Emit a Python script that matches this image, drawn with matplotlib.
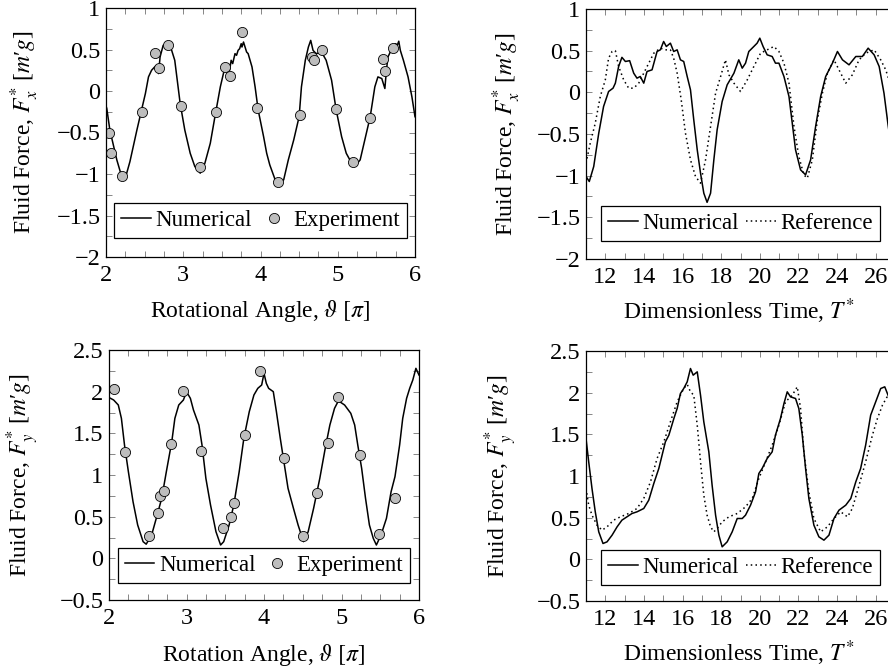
import numpy as np
import matplotlib
matplotlib.use("Agg")
import matplotlib.pyplot as plt
from matplotlib.ticker import MultipleLocator

plt.rcParams['font.family'] = ['Liberation Serif', 'DejaVu Serif']
plt.rcParams['mathtext.fontset'] = 'stix'
plt.rcParams['font.size'] = 17

# ---- top left: F_x vs rotational angle
fx_num_x = [2.0, 2.01, 2.05, 2.14, 2.2, 2.25, 2.31, 2.4, 2.46, 2.51, 2.55, 2.59, 2.63, 2.66, 2.68, 2.7,
            2.74, 2.79, 2.85, 2.89, 2.96, 3.02, 3.09, 3.15, 3.22, 3.28, 3.35, 3.41, 3.48, 3.53, 3.58,
            3.6, 3.62, 3.64, 3.67, 3.69, 3.71, 3.73, 3.75, 3.76, 3.78, 3.8, 3.82, 3.84, 3.89, 3.93,
            3.97, 4.04, 4.08, 4.12, 4.19, 4.23, 4.3, 4.36, 4.43, 4.5, 4.53, 4.58, 4.62, 4.65, 4.68,
            4.72, 4.79, 4.85, 4.92, 4.98, 5.05, 5.11, 5.18, 5.22, 5.29, 5.35, 5.42, 5.48, 5.52, 5.57,
            5.61, 5.63, 5.65, 5.68, 5.72, 5.75, 5.77, 5.79, 5.81, 5.85, 5.91, 5.96, 6.0]
fx_num_y = [-0.18, -0.21, -0.47, -0.83, -1.02, -1.05, -0.85, -0.47, -0.23, -0.03, 0.17, 0.25, 0.29, 0.31, 0.21, 0.41,
            0.55, 0.58, 0.49, 0.37, -0.15, -0.47, -0.75, -0.91, -0.99, -0.87, -0.63, -0.31, 0.05, 0.25, 0.29,
            0.25, 0.37, 0.33, 0.45, 0.43, 0.49, 0.51, 0.57, 0.53, 0.59, 0.53, 0.47, 0.45, 0.29, 0.05,
            -0.23, -0.55, -0.75, -0.89, -1.07, -1.13, -1.07, -0.83, -0.59, -0.31, 0.05, 0.37, 0.53, 0.61, 0.49,
            0.45, 0.47, 0.37, 0.13, -0.23, -0.55, -0.75, -0.87, -0.91, -0.83, -0.59, -0.31, 0.05, 0.17, 0.15,
            0.03, 0.25, 0.41, 0.47, 0.55, 0.57, 0.55, 0.6, 0.49, 0.37, 0.17, -0.07, -0.31]
fx_exp_x = [2.04, 2.07, 2.21, 2.46, 2.63, 2.69, 2.8, 2.97, 3.22, 3.43, 3.54, 3.6, 3.76, 3.96, 4.23,
            4.51, 4.67, 4.69, 4.8, 4.98, 5.2, 5.42, 5.59, 5.61, 5.71]
fx_exp_y = [-0.5, -0.745, -1.03, -0.25, 0.455, 0.28, 0.56, -0.18, -0.915, -0.25, 0.285, 0.18, 0.71, -0.2, -1.095,
            -0.285, 0.415, 0.375, 0.49, -0.22, -0.86, -0.32, 0.38, 0.24, 0.515]

# ---- bottom left: F_y vs rotation angle
fy_num_x = [2.0, 2.06, 2.12, 2.16, 2.2, 2.25, 2.31, 2.37, 2.44, 2.48, 2.55, 2.61, 2.68, 2.74, 2.81, 2.85,
            2.9, 2.96, 3.0, 3.05, 3.09, 3.16, 3.2, 3.25, 3.31, 3.38, 3.44, 3.48, 3.55, 3.61, 3.68,
            3.74, 3.81, 3.87, 3.92, 3.97, 4.0, 4.03, 4.06, 4.12, 4.16, 4.21, 4.25, 4.31, 4.38, 4.44,
            4.51, 4.57, 4.64, 4.72, 4.79, 4.85, 4.91, 4.96, 5.04, 5.12, 5.17, 5.21, 5.26, 5.31, 5.36,
            5.41, 5.45, 5.51, 5.58, 5.64, 5.69, 5.75, 5.79, 5.84, 5.88, 5.92, 5.96, 6.0]
fy_num_y = [1.93, 1.9, 1.84, 1.68, 1.36, 1.04, 0.68, 0.4, 0.2, 0.17, 0.28, 0.48, 0.72, 1.04, 1.4, 1.68,
            1.84, 1.9, 2.0, 1.92, 1.78, 1.6, 1.36, 0.96, 0.64, 0.32, 0.16, 0.2, 0.4, 0.64, 1.04,
            1.44, 1.76, 1.96, 2.04, 2.08, 2.22, 2.1, 2.04, 2.0, 1.76, 1.44, 1.2, 0.84, 0.6, 0.4,
            0.2, 0.32, 0.6, 0.96, 1.32, 1.6, 1.8, 1.89, 1.84, 1.74, 1.6, 1.36, 1.08, 0.72, 0.4,
            0.24, 0.16, 0.28, 0.48, 0.8, 0.98, 1.36, 1.68, 1.92, 2.04, 2.14, 2.28, 2.2]
fy_exp_x = [2.065, 2.21, 2.52, 2.63, 2.66, 2.71, 2.8, 2.96, 3.19, 3.47, 3.58, 3.61, 3.75, 3.95, 4.26,
            4.5, 4.68, 4.82, 4.955, 5.24, 5.48, 5.69]
fy_exp_y = [2.03, 1.28, 0.27, 0.54, 0.75, 0.81, 1.37, 2.01, 1.29, 0.37, 0.5, 0.66, 1.48, 2.25, 1.2,
            0.27, 0.78, 1.38, 1.94, 1.24, 0.29, 0.73]

# ---- top right: F_x vs time
tx_num_t = [11.0, 11.17, 11.4, 11.66, 11.91, 12.17, 12.4, 12.52, 12.69, 12.86, 13.04, 13.26, 13.47, 13.64,
            13.81, 13.99, 14.16, 14.42, 14.68, 14.85, 15.02, 15.16, 15.37, 15.54, 15.72, 15.89, 16.06,
            16.24, 16.41, 16.58, 16.76, 16.93, 17.1, 17.27, 17.45, 17.62, 17.79, 18.05, 18.31, 18.66,
            18.91, 19.09, 19.26, 19.43, 19.69, 19.86, 20.0, 20.17, 20.38, 20.64, 20.81, 20.99, 21.25,
            21.51, 21.68, 21.85, 22.11, 22.37, 22.63, 22.89, 23.15, 23.41, 23.76, 24.02, 24.28, 24.62,
            24.97, 25.31, 25.61, 25.92, 26.18, 26.43, 26.64, 26.9]
tx_num_f = [-1.01, -1.07, -0.89, -0.49, -0.17, 0.01, 0.05, 0.11, 0.31, 0.42, 0.37, 0.38, 0.23, 0.17,
            0.19, 0.11, 0.25, 0.27, 0.49, 0.51, 0.61, 0.55, 0.59, 0.49, 0.51, 0.39, 0.37,
            0.19, 0.03, -0.33, -0.69, -0.97, -1.21, -1.32, -1.21, -0.81, -0.45, -0.11, 0.09, 0.23,
            0.39, 0.29, 0.35, 0.49, 0.55, 0.59, 0.65, 0.55, 0.45, 0.43, 0.35, 0.35, 0.19,
            -0.05, -0.37, -0.69, -0.93, -0.99, -0.81, -0.41, -0.05, 0.19, 0.35, 0.49, 0.39, 0.33,
            0.43, 0.43, 0.53, 0.45, 0.31, -0.01, -0.39, -0.8]
tx_ref_t = [11.0, 11.22, 11.48, 11.74, 12.0, 12.17, 12.35, 12.52, 12.69, 12.95, 13.21, 13.47, 13.73, 13.99,
            14.25, 14.51, 14.85, 15.11, 15.37, 15.54, 15.72, 15.93, 16.15, 16.41, 16.67, 16.93, 17.19,
            17.45, 17.71, 17.97, 18.22, 18.4, 18.66, 19.0, 19.35, 19.69, 20.04, 20.38, 20.73, 20.99,
            21.25, 21.51, 21.77, 22.02, 22.28, 22.46, 22.72, 22.98, 23.24, 23.5, 23.84, 24.1, 24.45,
            24.79, 25.14, 25.48, 25.92, 26.26, 26.52, 26.9]
tx_ref_f = [-0.85, -0.61, -0.37, -0.05, 0.15, 0.41, 0.49, 0.5, 0.31, 0.15, 0.05, 0.05, 0.11, 0.23,
            0.35, 0.47, 0.53, 0.51, 0.51, 0.41, 0.23, -0.09, -0.49, -0.81, -1.01, -1.09, -0.81,
            -0.41, -0.01, 0.19, 0.39, 0.21, 0.11, 0.01, 0.15, 0.31, 0.47, 0.51, 0.55, 0.49,
            0.35, 0.11, -0.41, -0.77, -0.99, -1.03, -0.81, -0.33, -0.01, 0.23, 0.39, 0.27, 0.11,
            0.21, 0.39, 0.47, 0.51, 0.39, 0.27, 0.0]

# ---- bottom right: F_y vs time
ty_num_t = [11.0, 11.14, 11.31, 11.48, 11.66, 11.88, 12.09, 12.35, 12.61, 12.86, 13.12, 13.38, 13.64,
            13.99, 14.25, 14.51, 14.77, 14.94, 15.11, 15.29, 15.55, 15.72, 15.89, 16.06, 16.24, 16.41,
            16.55, 16.76, 16.93, 17.1, 17.36, 17.53, 17.71, 17.88, 18.05, 18.31, 18.57, 18.83, 19.09,
            19.26, 19.52, 19.78, 19.95, 20.12, 20.38, 20.64, 20.81, 21.07, 21.25, 21.42, 21.59, 21.85,
            22.02, 22.2, 22.37, 22.54, 22.8, 23.06, 23.32, 23.58, 23.84, 24.1, 24.45, 24.71, 24.97,
            25.22, 25.48, 25.74, 26.0, 26.26, 26.47, 26.64, 26.9]
ty_num_f = [1.45, 1.17, 0.85, 0.57, 0.33, 0.19, 0.21, 0.29, 0.39, 0.47, 0.51, 0.55, 0.57,
            0.61, 0.71, 0.91, 1.09, 1.25, 1.41, 1.49, 1.69, 1.81, 1.99, 2.05, 2.13, 2.29,
            2.21, 2.25, 1.97, 1.65, 1.29, 0.89, 0.53, 0.29, 0.15, 0.21, 0.33, 0.49, 0.49,
            0.53, 0.65, 0.81, 1.03, 1.09, 1.21, 1.29, 1.49, 1.69, 1.87, 2.01, 1.95, 1.93,
            1.81, 1.49, 1.09, 0.73, 0.41, 0.27, 0.23, 0.29, 0.49, 0.59, 0.65, 0.73, 0.93,
            1.09, 1.37, 1.73, 1.89, 2.05, 2.07, 1.97, 1.8]
ty_ref_t = [11.0, 11.14, 11.31, 11.57, 11.83, 12.09, 12.43, 12.78, 13.21, 13.64, 13.99, 14.34, 14.68,
            15.03, 15.37, 15.72, 16.06, 16.24, 16.41, 16.58, 16.76, 16.93, 17.1, 17.27, 17.45, 17.62,
            17.79, 18.05, 18.4, 18.83, 19.26, 19.61, 19.95, 20.3, 20.64, 20.99, 21.33, 21.68, 21.94,
            22.11, 22.28, 22.54, 22.8, 23.15, 23.5, 23.84, 24.19, 24.54, 24.79, 25.14, 25.48, 25.83,
            26.09, 26.35, 26.64, 26.9]
ty_ref_f = [0.85, 0.65, 0.53, 0.41, 0.35, 0.39, 0.47, 0.51, 0.55, 0.61, 0.73, 0.93, 1.21,
            1.41, 1.65, 1.89, 2.05, 2.1, 2.01, 1.97, 1.61, 1.17, 0.77, 0.53, 0.39, 0.33,
            0.37, 0.45, 0.51, 0.55, 0.63, 0.73, 0.97, 1.17, 1.37, 1.61, 1.89, 1.97, 2.07,
            1.81, 1.29, 0.81, 0.49, 0.33, 0.39, 0.49, 0.57, 0.51, 0.61, 0.89, 1.17, 1.49,
            1.69, 1.85, 1.97, 2.05]

W, H = 888, 670
fig = plt.figure(figsize=(W / 100, H / 100), dpi=100)


def box(l, r, t, b):
    return [l / W, 1 - b / H, (r - l) / W, (b - t) / H]


def minus(v, p):
    return ('%g' % v).replace('-', '\u2212')


def style(ax, xmaj, xmin, ymaj, ymin):
    ax.xaxis.set_major_locator(MultipleLocator(xmaj))
    ax.xaxis.set_minor_locator(MultipleLocator(xmin))
    ax.yaxis.set_major_locator(MultipleLocator(ymaj))
    ax.yaxis.set_minor_locator(MultipleLocator(ymin))
    ax.tick_params(which='both', direction='in', top=True, right=True, length=4.5, width=0.6,
                   color='0.45', labelsize=17.5)
    ax.tick_params(axis='x', which='major', pad=6)
    ax.tick_params(axis='y', which='major', pad=4)
    for s in ax.spines.values():
        s.set_linewidth(0.9)
    ax.xaxis.set_major_formatter(matplotlib.ticker.FuncFormatter(minus))
    ax.yaxis.set_major_formatter(matplotlib.ticker.FuncFormatter(minus))


def leg(ax, y):
    lg = ax.legend(loc='center', bbox_to_anchor=(0.5, y), ncol=2, frameon=True, fancybox=False,
                   edgecolor='black', framealpha=1, fontsize=16.5, handlelength=1.3, handletextpad=0.2,
                   columnspacing=0.3, borderpad=0.3, borderaxespad=0)
    lg.get_frame().set_linewidth(0.9)


mk = dict(marker='o', ls='none', ms=7.3, mfc='#bdbdbd', mec='black', mew=0.6)
dots = (0, (1, 2.1))
yl_x = "Fluid Force, $F_x^{*}$ [$m$\u2032$g$]"
yl_y = "Fluid Force, $F_y^{*}$ [$m$\u2032$g$]"

# top left
ax1 = fig.add_axes(box(106, 415, 8, 257))
ax1.plot(fx_num_x, fx_num_y, color='black', lw=1.1, label='Numerical')
ax1.plot(fx_exp_x, fx_exp_y, label='Experiment', **mk)
ax1.set_xlim(2, 6)
ax1.set_ylim(-2, 1)
style(ax1, 1, 0.25, 0.5, 0.25)
ax1.set_xlabel(r"Rotational Angle, $\vartheta$ $[\pi]$")
ax1.set_ylabel(yl_x)
ax1.xaxis.set_label_coords(0.5, -0.165)
ax1.yaxis.set_label_coords(-0.21, 0.5)
leg(ax1, 0.146)

# top right
ax2 = fig.add_axes(box(586, 895, 9, 259))
ax2.plot(tx_num_t, tx_num_f, color='black', lw=1.1, label='Numerical')
ax2.plot(tx_ref_t, tx_ref_f, color='black', lw=1.1, ls=dots, label='Reference')
ax2.set_xlim(11, 27)
ax2.set_ylim(-2, 1)
style(ax2, 2, 1, 0.5, 0.25)
ax2.set_xlabel(r"Dimensionless Time, $T^{*}$")
ax2.set_ylabel(yl_x)
ax2.xaxis.set_label_coords(0.495, -0.148)
ax2.yaxis.set_label_coords(-0.205, 0.5)
leg(ax2, 0.142)

# bottom left
ax3 = fig.add_axes(box(109, 419, 350, 600))
ax3.plot(fy_num_x, fy_num_y, color='black', lw=1.1, label='Numerical')
ax3.plot(fy_exp_x, fy_exp_y, label='Experiment', **mk)
ax3.set_xlim(2, 6)
ax3.set_ylim(-0.5, 2.5)
style(ax3, 1, 0.25, 0.5, 0.25)
ax3.set_xlabel(r"Rotation Angle, $\vartheta$ $[\pi]$")
ax3.set_ylabel(yl_y)
ax3.xaxis.set_label_coords(0.5, -0.168)
ax3.yaxis.set_label_coords(-0.219, 0.5)
leg(ax3, 0.139)

# bottom right
ax4 = fig.add_axes(box(586, 895, 351, 601))
ax4.plot(ty_num_t, ty_num_f, color='black', lw=1.1, label='Numerical')
ax4.plot(ty_ref_t, ty_ref_f, color='black', lw=1.1, ls=dots, label='Reference')
ax4.set_xlim(11, 27)
ax4.set_ylim(-0.5, 2.5)
style(ax4, 2, 1, 0.5, 0.25)
ax4.set_xlabel(r"Dimensionless Time, $T^{*}$")
ax4.set_ylabel(yl_y)
ax4.xaxis.set_label_coords(0.495, -0.15)
ax4.yaxis.set_label_coords(-0.218, 0.5)
leg(ax4, 0.134)

fig.savefig("out.png", dpi=100)
